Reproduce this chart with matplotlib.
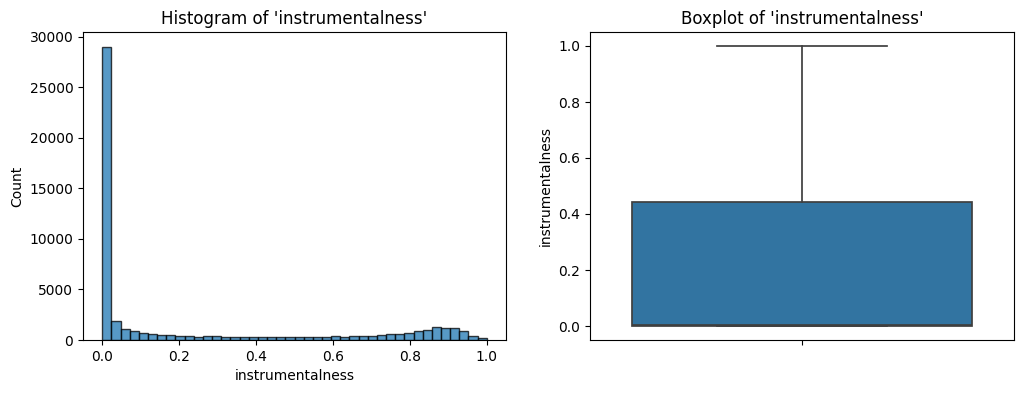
import numpy as np
import matplotlib
matplotlib.use("Agg")
import matplotlib.pyplot as plt

# histogram counts, 42 equal bins from 0 to 1
counts = [29000, 1880, 1090, 890, 730, 630, 500, 500, 400, 400,
          300, 400, 400, 300, 300, 300, 300, 300, 300, 300,
          300, 300, 300, 300, 300, 400, 300, 400, 400, 400,
          500, 600, 600, 700, 890, 990, 1290, 1190, 1190, 890,
          400, 200]
bin_lo = 0.0
bin_hi = 1.0

# boxplot summary (q1, median, q3, whiskers)
q1 = 0.0002
median = 0.005
q3 = 0.443
whis_lo = 0.0
whis_hi = 1.0

col = "instrumentalness"

fig = plt.figure(figsize=(10.23, 3.93), dpi=100)
W, H = 1023, 393
ax1 = fig.add_axes([83 / W, 1 - 340 / H, 423 / W, 308 / H])
ax2 = fig.add_axes([590 / W, 1 - 340 / H, 424 / W, 308 / H])

# left: histogram
edges = np.linspace(bin_lo, bin_hi, len(counts) + 1)
ax1.hist(edges[:-1], bins=edges, weights=counts, color="#1f77b4", alpha=0.75,
         edgecolor="black", linewidth=1.0)
ax1.set_xlim(-0.05, 1.05)
ax1.set_title("Histogram of '%s'" % col)
ax1.set_xlabel(col)
ax1.set_ylabel("Count")

# right: boxplot, seaborn-like look
stats = [{"q1": q1, "med": median, "q3": q3, "whislo": whis_lo, "whishi": whis_hi, "fliers": []}]
line = dict(color="#3f3f3f", linewidth=1.25)
ax2.bxp(stats, positions=[0], widths=0.8, patch_artist=True, showfliers=False,
        boxprops=dict(facecolor="#3274a1", edgecolor="#3f3f3f", linewidth=1.25),
        medianprops=line, whiskerprops=line, capprops=line, capwidths=0.4)
ax2.set_xlim(-0.5, 0.5)
ax2.set_ylim(-0.05, 1.05)
ax2.set_xticks([0])
ax2.set_xticklabels([""])
ax2.set_title("Boxplot of '%s'" % col)
ax2.set_ylabel(col)

fig.savefig("out.png", dpi=100)
